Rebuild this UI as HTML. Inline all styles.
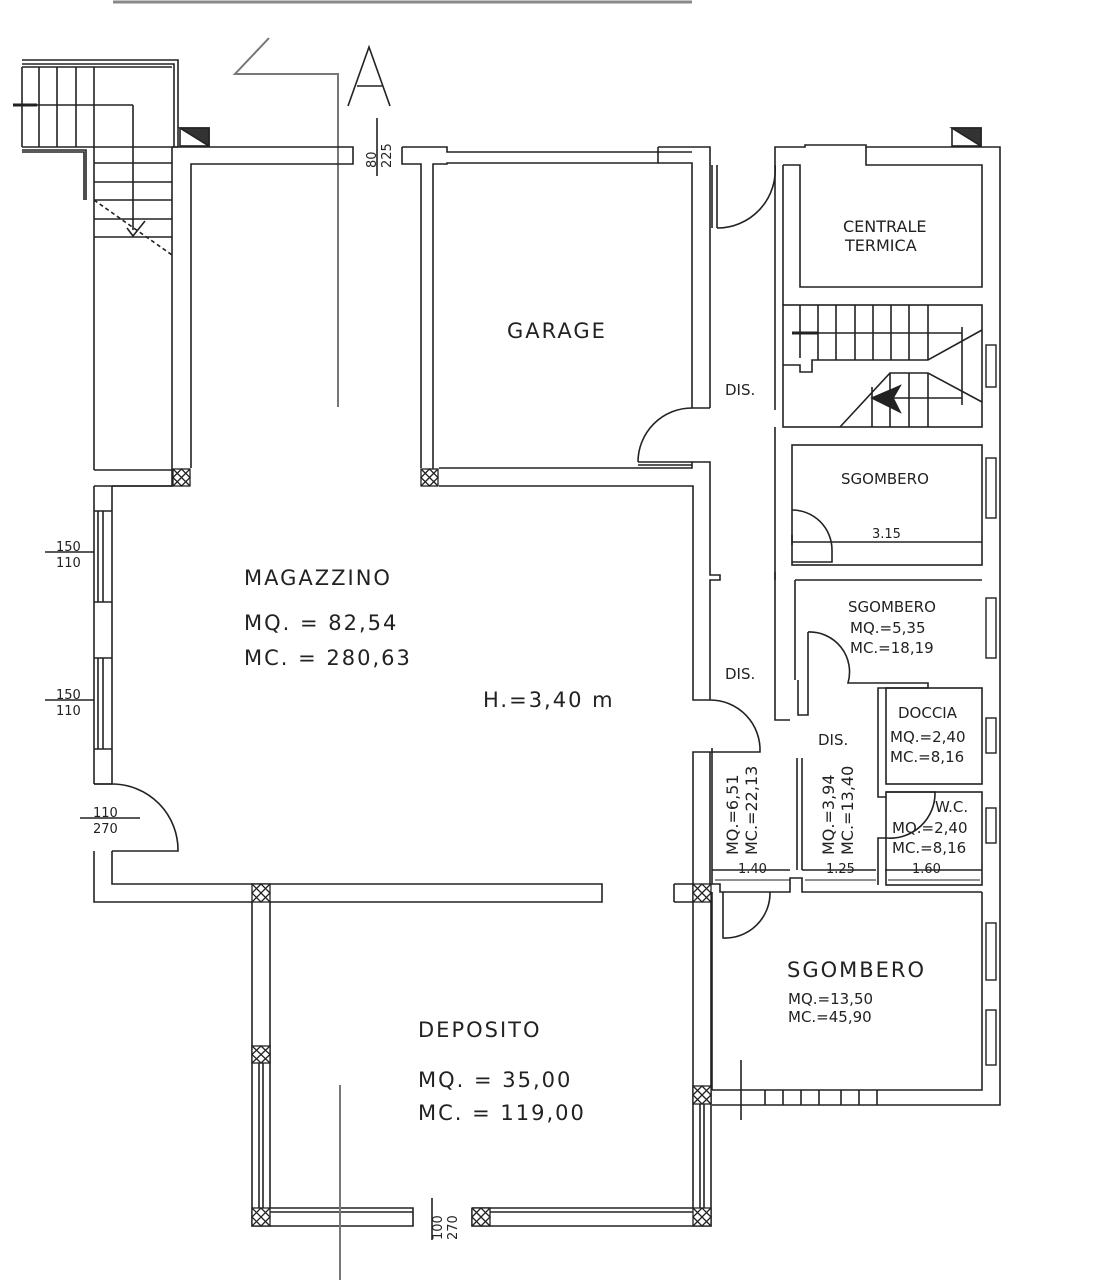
<!DOCTYPE html>
<html><head><meta charset="utf-8"><style>
html,body{margin:0;padding:0;background:#fff;}
svg{display:block}
text{font-family:"DejaVu Sans","Liberation Sans",sans-serif;fill:#222}
</style></head><body>
<svg width="1094" height="1280" viewBox="0 0 1094 1280" xmlns="http://www.w3.org/2000/svg">
<g fill="none" stroke="#222" stroke-width="1.6">
<line x1="113" y1="2" x2="692" y2="2" stroke="#888" stroke-width="3"/>
<polyline points="269,38 235,74 338,74 338,407" stroke="#777" stroke-width="2"/>
<polyline points="348,106 369,47 390,106"/><line x1="357" y1="86" x2="382" y2="86"/>
<polyline points="22,60 178,60 178,147"/><polyline points="22,64 174,64 174,147"/>
<line x1="22" y1="67" x2="172" y2="67"/>
<line x1="22" y1="67" x2="22" y2="147"/>
<line x1="22" y1="147" x2="178" y2="147"/>
<line x1="39" y1="67" x2="39" y2="147"/><line x1="57" y1="67" x2="57" y2="147"/><line x1="76" y1="67" x2="76" y2="147"/><line x1="94" y1="67" x2="94" y2="147"/>
<line x1="13" y1="105" x2="133" y2="105"/><line x1="13" y1="105" x2="37" y2="105" stroke-width="3"/>
<line x1="133" y1="105" x2="133" y2="230"/>
<polyline points="22,150 86,150 86,200"/><polyline points="22,152 84,152 84,200"/>
<line x1="94" y1="147" x2="94" y2="470"/>
<line x1="94" y1="163" x2="172" y2="163"/><line x1="94" y1="182" x2="172" y2="182"/><line x1="94" y1="200" x2="172" y2="200"/><line x1="94" y1="219" x2="172" y2="219"/><line x1="94" y1="237" x2="172" y2="237"/>
<line x1="94" y1="200" x2="172" y2="255" stroke-dasharray="4,3"/>
<polyline points="127,228 133,236 145,221"/>
<rect x="180" y="128" width="29" height="18" fill="#fff"/><polygon points="180,128 209,128 209,146" fill="#333"/>
<line x1="94" y1="470" x2="172" y2="470"/>
<polyline points="172,147 353,147 353,164 191,164 191,468"/>
<line x1="172" y1="147" x2="172" y2="486"/>
<polyline points="402,147 447,147 447,152 692,152"/>
<polyline points="402,147 402,164 421,164 421,468"/><polyline points="433,486 433,164 447,164 447,163 658,163 658,147"/>
<line x1="377" y1="118" x2="377" y2="176"/>
<polyline points="658,147 710,147 710,408"/><polyline points="658,163 692,163 692,408 710,408"/>
<polyline points="439,468 692,468 692,462 710,462 710,575 720,575 720,580 710,580 710,700"/>
<polyline points="439,486 693,486 693,700 710,700"/>
<line x1="638" y1="462" x2="692" y2="462"/><line x1="638" y1="465" x2="692" y2="465"/>
<path d="M638,462 A54,54 0 0 1 692,408"/>
<polyline points="94,486 94,784"/><polyline points="112,486 112,784 94,784"/>
<line x1="94" y1="486" x2="172" y2="486"/><line x1="112" y1="486" x2="173" y2="486"/>
<line x1="98" y1="511" x2="98" y2="602"/><line x1="103" y1="511" x2="103" y2="602"/><line x1="94" y1="511" x2="112" y2="511"/><line x1="94" y1="602" x2="112" y2="602"/>
<line x1="98" y1="658" x2="98" y2="749"/><line x1="103" y1="658" x2="103" y2="749"/><line x1="94" y1="658" x2="112" y2="658"/><line x1="94" y1="749" x2="112" y2="749"/>
<path d="M94,784 L112,784 A66,66 0 0 1 178,851 L112,851"/>
<polyline points="94,851 94,902 252,902"/><polyline points="112,851 112,884 602,884 602,902 270,902"/>
<polyline points="252,902 252,1226 413,1226 413,1208 270,1208 270,902"/>
<line x1="259" y1="1063" x2="259" y2="1208"/><line x1="263" y1="1063" x2="263" y2="1208"/>
<line x1="270" y1="1212" x2="413" y2="1212"/>
<polyline points="472,1208 472,1226 711,1226 711,902"/><polyline points="472,1208 693,1208 693,752 710,752"/>
<line x1="490" y1="1212" x2="693" y2="1212"/>
<line x1="700" y1="1100" x2="700" y2="1208"/><line x1="704" y1="1100" x2="704" y2="1208"/>
<line x1="674" y1="884" x2="693" y2="884"/><line x1="674" y1="884" x2="674" y2="902"/><line x1="674" y1="902" x2="693" y2="902"/>
<line x1="710" y1="752" x2="710" y2="884"/>
<path d="M710,700 A50,50 0 0 1 760,752 L710,752"/>
<line x1="432" y1="1198" x2="432" y2="1240"/>
<line x1="340" y1="1085" x2="340" y2="1280" stroke="#777" stroke-width="2"/>
<line x1="712" y1="165" x2="712" y2="228"/><line x1="717" y1="165" x2="717" y2="228"/>
<path d="M717,228 A58,58 0 0 0 775,165"/>
<polyline points="775,410 775,147 805,147 805,145 866,145 866,147 1000,147 1000,1105 712,1105"/>
<polyline points="783,165 800,165 800,287 982,287 982,165 866,165 866,147"/>
<line x1="783" y1="165" x2="783" y2="305"/>
<rect x="783" y="305" width="199" height="122"/>
<line x1="800" y1="305" x2="800" y2="358"/><line x1="818" y1="305" x2="818" y2="360"/><line x1="836" y1="305" x2="836" y2="360"/><line x1="855" y1="305" x2="855" y2="360"/><line x1="873" y1="305" x2="873" y2="360"/><line x1="891" y1="305" x2="891" y2="360"/><line x1="909" y1="305" x2="909" y2="360"/><line x1="928" y1="305" x2="928" y2="360"/>
<polyline points="783,365 800,365 800,372 812,372 812,360 928,360 982,330"/>
<polyline points="840,427 890,373 928,373 982,402"/>
<line x1="872" y1="387" x2="872" y2="427"/><line x1="890" y1="373" x2="890" y2="427"/><line x1="909" y1="373" x2="909" y2="427"/><line x1="928" y1="373" x2="928" y2="427"/>
<line x1="800" y1="333" x2="962" y2="333"/><line x1="878" y1="398" x2="962" y2="398"/><line x1="962" y1="327" x2="962" y2="405"/>
<line x1="792" y1="333" x2="818" y2="333" stroke-width="3"/>
<polygon points="872,398 900,386 893,398 900,412" fill="#222"/>
<polyline points="775,427 775,444 775,580"/><rect x="792" y="445" width="190" height="120"/>
<path d="M792,510 A40,40 0 0 1 832,550 L832,562 L792,562"/>
<line x1="792" y1="542" x2="982" y2="542"/><line x1="792" y1="535" x2="792" y2="545"/>
<polyline points="775,572 775,720 790,720"/>
<polyline points="795,580 982,580"/>
<polyline points="795,580 795,680"/>
<path d="M808,632 A40,40 0 0 1 848,683 L928,683 L928,688 L878,688 L878,793"/>
<polyline points="808,632 808,715 798,715 798,680"/>
<rect x="886" y="688" width="96" height="96"/>
<polyline points="878,793 878,797 886,797"/><rect x="886" y="792" width="96" height="93"/>
<path d="M886,792 L935,792 A45,45 0 0 1 886,838 L878,838 L878,885"/>
<line x1="797" y1="758" x2="797" y2="870"/><line x1="802" y1="758" x2="802" y2="870"/>
<line x1="712" y1="870" x2="790" y2="870"/><line x1="802" y1="870" x2="876" y2="870"/><line x1="885" y1="870" x2="982" y2="870"/>
<polyline points="712,748 712,884 720,884 720,892 790,892 790,878 802,878 802,892 982,892"/>
<line x1="712" y1="892" x2="712" y2="1090"/>
<path d="M723,892 L723,938 A45,45 0 0 0 770,892"/>
<polyline points="712,1090 982,1090 982,892"/>
<line x1="765" y1="1090" x2="765" y2="1105"/><line x1="783" y1="1090" x2="783" y2="1105"/><line x1="801" y1="1090" x2="801" y2="1105"/><line x1="819" y1="1090" x2="819" y2="1105"/><line x1="841" y1="1090" x2="841" y2="1105"/><line x1="859" y1="1090" x2="859" y2="1105"/><line x1="877" y1="1090" x2="877" y2="1105"/>
<line x1="741" y1="1060" x2="741" y2="1120"/>
<g stroke-width="1.4">
<rect x="986" y="345" width="10" height="42"/><rect x="986" y="458" width="10" height="60"/><rect x="986" y="598" width="10" height="60"/><rect x="986" y="718" width="10" height="35"/><rect x="986" y="808" width="10" height="35"/><rect x="986" y="923" width="10" height="57"/><rect x="986" y="1010" width="10" height="55"/>
</g>
<rect x="952" y="128" width="29" height="18" fill="#fff"/><polygon points="952,128 981,128 981,146" fill="#333"/>
<line x1="45" y1="552" x2="94" y2="552"/><line x1="45" y1="700" x2="94" y2="700"/><line x1="80" y1="818" x2="140" y2="818"/>
<line x1="715" y1="880" x2="790" y2="880" stroke-width="1"/><line x1="805" y1="880" x2="876" y2="880" stroke-width="1"/><line x1="888" y1="880" x2="980" y2="880" stroke-width="1"/>
</g>
<g stroke="#222" stroke-width="1.3" fill="#fff">
<g transform="translate(173,469)"><rect width="17" height="17"/><path d="M0,0L17,17M17,0L0,17M8.5,0L0,8.5L8.5,17L17,8.5Z" fill="none"/></g>
<g transform="translate(421,469)"><rect width="17" height="17"/><path d="M0,0L17,17M17,0L0,17M8.5,0L0,8.5L8.5,17L17,8.5Z" fill="none"/></g>
<g transform="translate(252,884)"><rect width="18" height="18"/><path d="M0,0L18,18M18,0L0,18M9,0L0,9L9,18L18,9Z" fill="none"/></g>
<g transform="translate(252,1046)"><rect width="18" height="17"/><path d="M0,0L18,17M18,0L0,17M9,0L0,8.5L9,17L18,8.5Z" fill="none"/></g>
<g transform="translate(252,1208)"><rect width="18" height="18"/><path d="M0,0L18,18M18,0L0,18M9,0L0,9L9,18L18,9Z" fill="none"/></g>
<g transform="translate(472,1208)"><rect width="18" height="18"/><path d="M0,0L18,18M18,0L0,18M9,0L0,9L9,18L18,9Z" fill="none"/></g>
<g transform="translate(693,1208)"><rect width="18" height="18"/><path d="M0,0L18,18M18,0L0,18M9,0L0,9L9,18L18,9Z" fill="none"/></g>
<g transform="translate(693,1086)"><rect width="18" height="18"/><path d="M0,0L18,18M18,0L0,18M9,0L0,9L9,18L18,9Z" fill="none"/></g>
<g transform="translate(693,884)"><rect width="18" height="18"/><path d="M0,0L18,18M18,0L0,18M9,0L0,9L9,18L18,9Z" fill="none"/></g>
</g>
<g font-size="21" style="letter-spacing:2px">
<text x="507" y="338">GARAGE</text>
<text x="244" y="585">MAGAZZINO</text>
<text x="244" y="630">MQ. = 82,54</text>
<text x="244" y="665">MC. = 280,63</text>
<text x="483" y="707">H.=3,40 m</text>
<text x="418" y="1037">DEPOSITO</text>
<text x="418" y="1087">MQ. = 35,00</text>
<text x="418" y="1120">MC. = 119,00</text>
<text x="787" y="977">SGOMBERO</text>
</g>
<g font-size="15">
<text x="843" y="232" font-size="16">CENTRALE</text>
<text x="845" y="251" font-size="16">TERMICA</text>
<text x="841" y="484">SGOMBERO</text>
<text x="725" y="395">DIS.</text>
<text x="725" y="679">DIS.</text>
<text x="818" y="745">DIS.</text>
<text x="848" y="612">SGOMBERO</text>
<text x="850" y="633">MQ.=5,35</text>
<text x="850" y="653">MC.=18,19</text>
<text x="898" y="718">DOCCIA</text>
<text x="890" y="742">MQ.=2,40</text>
<text x="890" y="762">MC.=8,16</text>
<text x="935" y="812">W.C.</text>
<text x="892" y="833">MQ.=2,40</text>
<text x="892" y="853">MC.=8,16</text>
<text x="788" y="1004">MQ.=13,50</text>
<text x="788" y="1022">MC.=45,90</text>
</g>
<g font-size="13">
<text x="872" y="538">3.15</text>
<text x="738" y="873">1.40</text>
<text x="826" y="873">1.25</text>
<text x="912" y="873">1.60</text>
<text x="56" y="551">150</text><text x="56" y="567">110</text>
<text x="56" y="699">150</text><text x="56" y="715">110</text>
<text x="93" y="817">110</text><text x="93" y="833">270</text>
</g>
<g font-size="16">
<text transform="translate(738,855) rotate(-90)">MQ.=6,51</text>
<text transform="translate(757,855) rotate(-90)">MC.=22,13</text>
<text transform="translate(834,855) rotate(-90)">MQ.=3,94</text>
<text transform="translate(853,855) rotate(-90)">MC.=13,40</text>
</g>
<g font-size="13">
<text transform="translate(376,168) rotate(-90)">80</text>
<text transform="translate(391,168) rotate(-90)">225</text>
<text transform="translate(442,1240) rotate(-90)">100</text>
<text transform="translate(457,1240) rotate(-90)">270</text>
</g>
</svg>
</body></html>
